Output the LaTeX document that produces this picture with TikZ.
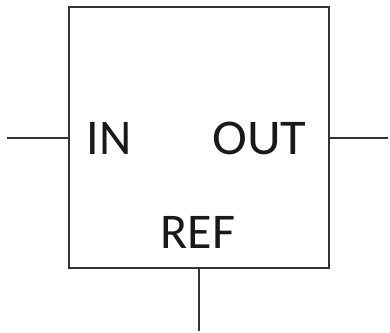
\documentclass[tikz,border=0pt]{standalone}
\usepackage{fontspec}
\setmainfont{Carlito}
\definecolor{linegray}{HTML}{333333}
\begin{document}
\begin{tikzpicture}[x=1pt,y=-1pt,
  wire/.style={draw=linegray,line width=2.5pt},
  blockbox/.style={draw=linegray,line width=2.5pt,rectangle,minimum width=260pt,minimum height=261pt,inner sep=0pt},
  portlabel/.style={font=\fontsize{50}{50}\selectfont,text=black!90,inner sep=0pt,anchor=base}]
\useasboundingbox (0,0) rectangle (390,332);
\node[blockbox] (box) at (199,137.5) {};
\node[portlabel] (in) at (109,154) {IN};
\node[portlabel,xscale=1.05] (out) at (259.5,154) {OUT};
\node[portlabel] (ref) at (198,248) {REF};
\coordinate (inend) at (7,138);
\coordinate (outend) at (388,138);
\coordinate (refend) at (199,331);
\draw[wire] (inend) -- (inend -| box.west);
\draw[wire] (outend -| box.east) -- (outend);
\draw[wire] (refend |- box.south) -- (refend);
\end{tikzpicture}
\end{document}
